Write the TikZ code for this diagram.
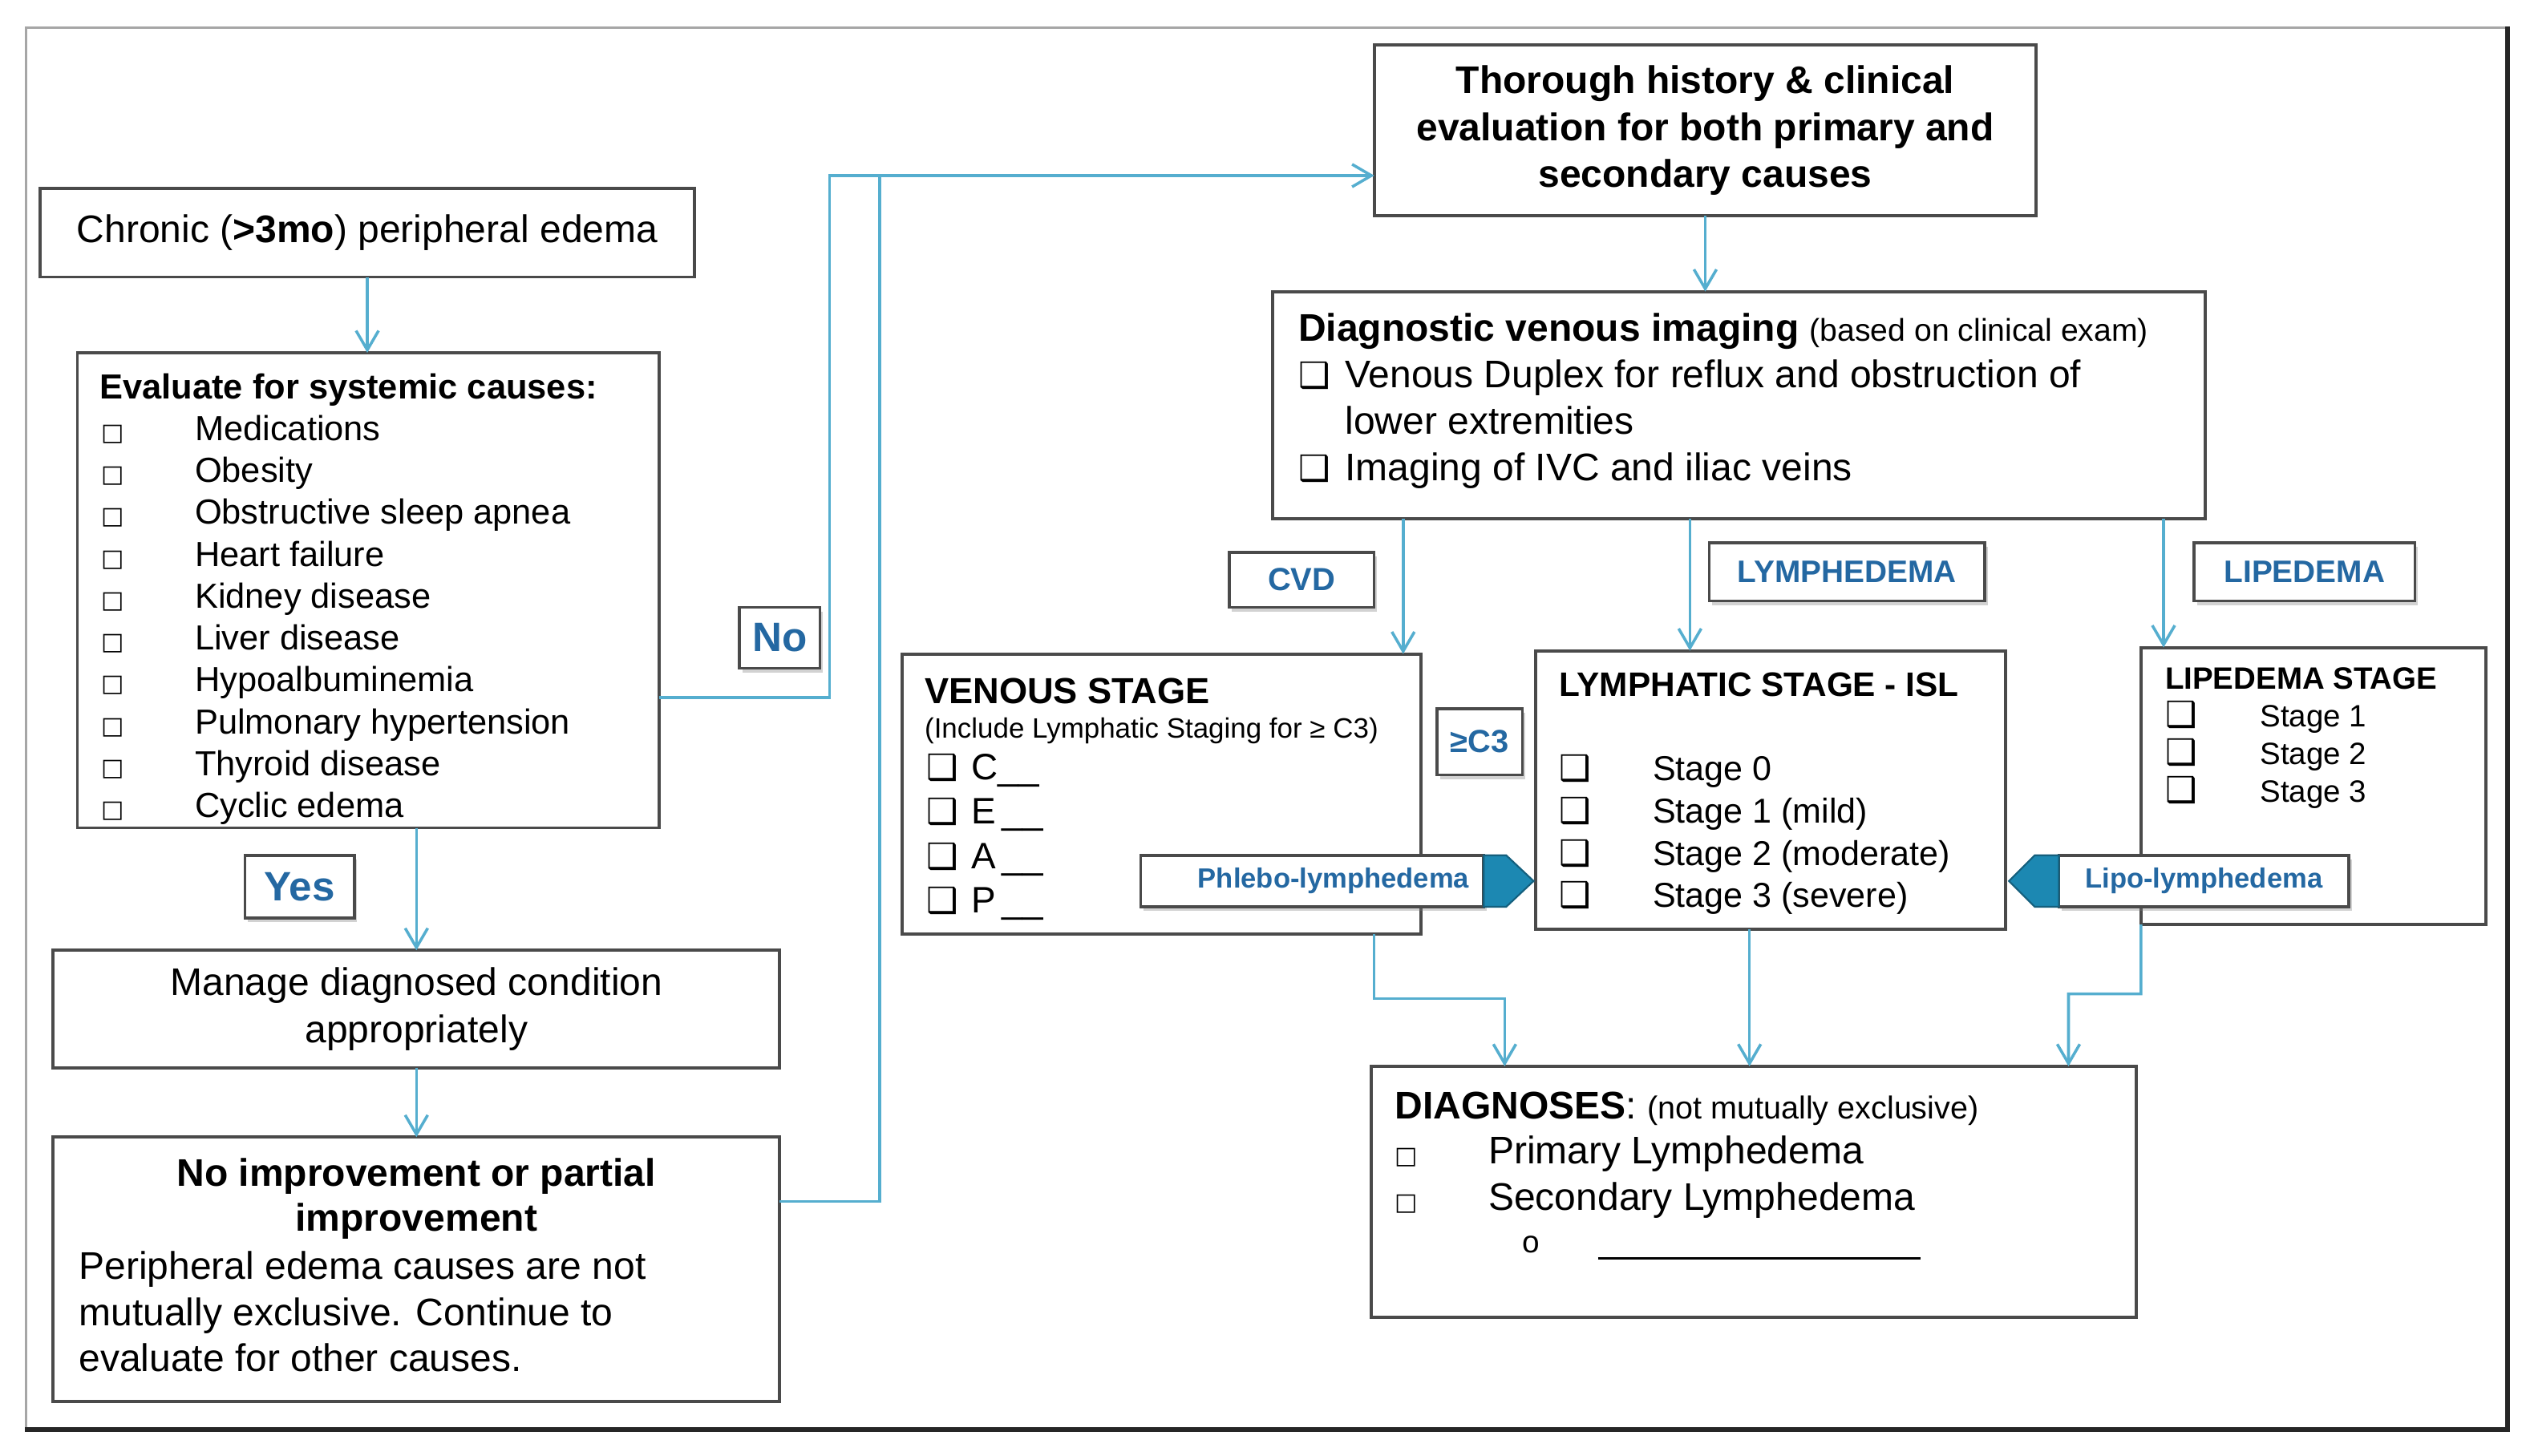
\documentclass[tikz,border=0pt]{standalone}
\usepackage{fontspec}
\setmainfont{Liberation Sans}
\newfontfamily\dv{DejaVu Sans}
\usetikzlibrary{arrows.meta,shadows}
\definecolor{boxc}{HTML}{4A4A4A}
\definecolor{linec}{HTML}{55AECF}
\definecolor{lblc}{HTML}{2468A2}
\definecolor{tealc}{HTML}{1C88B2}
\newcommand\fsz[2]{\fontsize{#1}{#2}\selectfont}
\newcommand\cbx{{\dv\fsz{12.5}{12.5}❑}}
\newcommand\smsq{{\dv\fsz{8.5}{8.5}□}}
\tikzset{
  box/.style={draw=boxc, line width=1.1pt, fill=white, inner sep=0pt, outer sep=0pt},
  lbl/.style={draw=boxc, line width=1pt, fill=white, text=lblc, inner sep=0pt, outer sep=0pt,
     drop shadow={shadow xshift=1pt, shadow yshift=-1.5pt, opacity=0.35}},
  arr/.style={draw=linec, line width=1pt, -{Straight Barb[length=2.4mm,width=2.8mm]}},
  ln/.style={draw=linec, line width=1pt},
  tx/.style={anchor=base west, inner sep=0pt, outer sep=0pt},
  txc/.style={anchor=base, inner sep=0pt, outer sep=0pt},
}
\begin{document}
\begin{tikzpicture}[x=0.02cm,y=-0.02cm]
\fill[white] (0,0) rectangle (1568,903.5);
\useasboundingbox (0,0) rectangle (1568,903.5);

% outer frame
\node[draw=gray!70, line width=0.8pt, inner sep=0pt, minimum width=30.8cm, minimum height=17.4cm] (frame) at (786,452) {};
\draw[black!85, line width=1.8pt] (frame.south west) -- (frame.south east) -- (frame.north east);

% ---------- left column ----------
\node[box, minimum width=8.12cm, minimum height=1.1cm, font=\fsz{13.6}{16.5}] (chronic) at (228,144.5)
  {Chronic (\textbf{>3mo}) peripheral edema};

\node[box, minimum width=7.22cm, minimum height=5.9cm] (evalb) at (228.5,366.5) {};
\node[tx, font=\fsz{12.3}{14.8}\bfseries] (evt) at (62,247.5) {Evaluate for systemic causes:};
\foreach \t [count=\i] in {Medications, Obesity, Obstructive sleep apnea, Heart failure, Kidney disease,
   Liver disease, Hypoalbuminemia, Pulmonary hypertension, Thyroid disease, Cyclic edema}{
  \node[tx, font=\fsz{12.3}{14.8}] (evs\i) at (63,{247.5+26*\i}) {\smsq};
  \node[tx, font=\fsz{12.3}{14.8}] (evi\i) at (121,{247.5+26*\i}) {\t};
}

\node[box, minimum width=9.02cm, minimum height=1.46cm, align=center, font=\fsz{13.6}{16.5}] (manage) at (258.5,626.5)
  {Manage diagnosed condition\\appropriately};

\node[box, minimum width=9.02cm, minimum height=3.28cm] (noimp) at (258.5,788) {};
\node[txc, font=\fsz{13.6}{16.5}\bfseries] (nit1) at (258.5,736.5) {No improvement or partial};
\node[txc, font=\fsz{13.6}{16.5}\bfseries] (nit2) at (258.5,764.5) {improvement};
\foreach \t [count=\i] in {Peripheral edema causes are not, mutually exclusive. Continue to, evaluate for other causes.}{
  \node[tx, font=\fsz{13.6}{16.5}] (nip\i) at (49,{765.5+28.7*\i}) {\t};
}

% ---------- right part ----------
\node[box, minimum width=8.22cm, minimum height=2.12cm, align=center, font=\fsz{13.6}{16.5}\bfseries] (thor) at (1058.5,81)
  {Thorough history \& clinical\\evaluation for both primary and\\secondary causes};

\node[box, minimum width=11.58cm, minimum height=2.82cm] (diag) at (1079.5,251.5) {};
\node[tx, font=\fsz{13.6}{16.5}] (dg1) at (806,212) {\textbf{Diagnostic venous imaging} {\fsz{11.1}{13}(based on clinical exam)}};
\node[tx, font=\fsz{13.6}{16.5}] (dgc1) at (806,240.5) {\cbx};
\node[tx, font=\fsz{13.6}{16.5}] (dg2) at (835,240.5) {Venous Duplex for reflux and obstruction of};
\node[tx, font=\fsz{13.6}{16.5}] (dg3) at (835,269.5) {lower extremities};
\node[tx, font=\fsz{13.6}{16.5}] (dgc2) at (806,298.5) {\cbx};
\node[tx, font=\fsz{13.6}{16.5}] (dg4) at (835,298.5) {Imaging of IVC and iliac veins};

% venous stage
\node[box, minimum width=6.44cm, minimum height=3.48cm] (ven) at (721,493) {};
\node[tx, font=\fsz{12.8}{15}\bfseries] (vt) at (574,437) {VENOUS STAGE};
\node[tx, font=\fsz{9.9}{12}] (vs) at (574,458) {(Include Lymphatic Staging for ≥ C3)};
\foreach \t [count=\i] in {C\_\_, E\,\_\_, A\,\_\_, P\,\_\_}{
  \node[tx, font=\fsz{13}{15}] (vc\i) at (575,{456.4+27.6*\i}) {\cbx};
  \node[tx, font=\fsz{13}{15}] (vi\i) at (603,{456.4+27.6*\i}) {\t};
}

% lymphatic stage
\node[box, minimum width=5.84cm, minimum height=3.46cm] (lym) at (1099,490.5) {};
\node[tx, font=\fsz{12}{14}\bfseries] (lt) at (968,432.5) {LYMPHATIC STAGE - ISL};
\foreach \t [count=\i] in {Stage 0, Stage 1 (mild), Stage 2 (moderate), Stage 3 (severe)}{
  \node[tx, font=\fsz{12.2}{14}] (lc\i) at (968,{458.2+26.3*\i}) {\cbx};
  \node[tx, font=\fsz{12.2}{14}] (li\i) at (1026,{458.2+26.3*\i}) {\t};
}

% lipedema stage
\node[box, minimum width=4.28cm, minimum height=3.44cm] (lip) at (1436,488) {};
\node[tx, font=\fsz{10.9}{13}\bfseries] (pt) at (1344,428) {LIPEDEMA STAGE};
\foreach \t [count=\i] in {Stage 1, Stage 2, Stage 3}{
  \node[tx, font=\fsz{10.9}{13}] (pc\i) at (1344,{427.5+23.5*\i}) {\cbx};
  \node[tx, font=\fsz{10.9}{13}] (pi\i) at (1403,{427.5+23.5*\i}) {\t};
}

% diagnoses
\node[box, minimum width=9.5cm, minimum height=3.12cm] (dx) at (1088.5,740) {};
\node[tx, font=\fsz{13.6}{16.5}] (dxt) at (866,694.5) {\textbf{DIAGNOSES}: {\fsz{11.2}{13}(not mutually exclusive)}};
\node[tx, font=\fsz{13.6}{16.5}] (dxs1) at (866,722.5) {\smsq};
\node[tx, font=\fsz{13.6}{16.5}] (dxi1) at (924,722.5) {Primary Lymphedema};
\node[tx, font=\fsz{13.6}{16.5}] (dxs2) at (866,751.5) {\smsq};
\node[tx, font=\fsz{13.6}{16.5}] (dxi2) at (924,751.5) {Secondary Lymphedema};
\node[tx, font=\fsz{11}{13}] (dxo) at (945,778) {o};
\node[tx] (dxl) at (992,782) {\rule{4cm}{0.9pt}};

% ---------- connectors ----------
\draw[arr] (chronic.south) -- (chronic.south |- evalb.north);
\coordinate (bendA) at (515,433);
\coordinate (bendB) at (515,109);
\draw[arr] (evalb.east |- bendA) -- (bendA) -- (bendB) -- (thor.west |- bendB);
\coordinate (bendC) at (546,746);
\draw[ln] (noimp.east |- bendC) -- (bendC) -- (bendC |- bendB);
\draw[arr] (evalb.south -| manage.north) -- (manage.north);
\draw[arr] (manage.south) -- (noimp.north);
\draw[arr] (thor.south) -- (thor.south |- diag.north);
\coordinate (xv) at (871,0);
\coordinate (xl) at (1049,0);
\coordinate (xp) at (1343,0);
\draw[arr] (diag.south -| xv) -- (ven.north -| xv);
\draw[arr] (diag.south -| xl) -- (lym.north -| xl);
\draw[arr] (diag.south -| xp) -- (lip.north -| xp);
\coordinate (vb) at (853,620);
\coordinate (vb2) at (934,620);
\draw[arr] (ven.south -| vb) -- (vb) -- (vb2) -- (dx.north -| vb2);
\coordinate (xm) at (1086,0);
\draw[arr] (lym.south -| xm) -- (dx.north -| xm);
\coordinate (pb) at (1329,617);
\coordinate (pb2) at (1284,617);
\draw[arr] (lip.south west) -- (pb) -- (pb2) -- (dx.north -| pb2);

% ---------- labels ----------
\node[lbl, minimum width=1.0cm, minimum height=0.76cm, font=\fsz{14.5}{16}\bfseries] (no) at (484,396) {No};
\node[lbl, minimum width=1.36cm, minimum height=0.78cm, font=\fsz{14.5}{16}\bfseries] (yes) at (186,550.5) {Yes};
\node[lbl, minimum width=1.8cm, minimum height=0.68cm, font=\fsz{11.3}{13}\bfseries] (cvd) at (808,360) {CVD};
\node[lbl, minimum width=3.42cm, minimum height=0.72cm, font=\fsz{11}{13}\bfseries] (lymlbl) at (1146.5,355) {LYMPHEDEMA};
\node[lbl, minimum width=2.74cm, minimum height=0.72cm, font=\fsz{11}{13}\bfseries] (liplbl) at (1430.5,355) {LIPEDEMA};
\node[lbl, minimum width=1.06cm, minimum height=0.82cm, font=\fsz{11.3}{13}\bfseries] (ge) at (918.5,460.5) {≥C3};

\node[lbl, minimum width=4.26cm, minimum height=0.64cm, font=\fsz{9.8}{12}\bfseries, text width=3.9cm, align=right] (phl) at (814.5,547) {Phlebo-lymphedema};
\filldraw[fill=tealc, draw=tealc!70!black, line width=0.6pt] (phl.north east) -- ([xshift=0.28cm]phl.north east)
  -- ([xshift=0.62cm]phl.east) -- ([xshift=0.28cm]phl.south east) -- (phl.south east) -- cycle;
\node[lbl, minimum width=3.6cm, minimum height=0.64cm, font=\fsz{9.8}{12}\bfseries] (lipo) at (1368,547) {Lipo-lymphedema};
\filldraw[fill=tealc, draw=tealc!70!black, line width=0.6pt] (lipo.north west) -- ([xshift=-0.3cm]lipo.north west)
  -- ([xshift=-0.62cm]lipo.west) -- ([xshift=-0.3cm]lipo.south west) -- (lipo.south west) -- cycle;
\end{tikzpicture}
\end{document}
